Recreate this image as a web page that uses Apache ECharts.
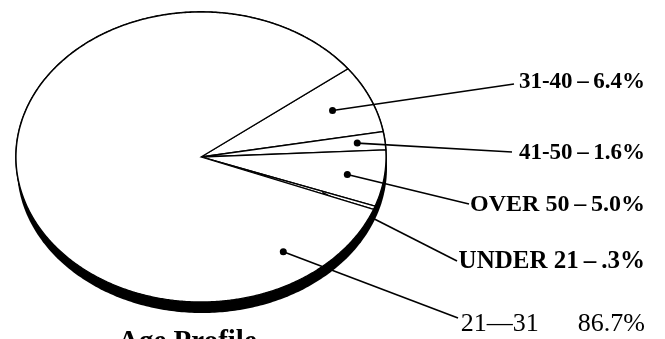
<!DOCTYPE html>
<html>
<head>
<meta charset="utf-8">
<script src="https://cdn.jsdelivr.net/npm/echarts@6/dist/echarts.min.js"></script>
<style>
  html, body { margin: 0; padding: 0; background: #fff; }
  #main { width: 665px; height: 339px; }
</style>
</head>
<body>
<div id="main"></div>
<script>
// age groups, drawn clockwise starting at the upper right
var categories = ['31-40', '41-50', 'OVER 50', 'UNDER 21', '21-31'];
var values = [6.4, 1.6, 5.0, 0.3, 86.7];
var labels = ['31-40\u2009\u2013\u20096.4%', '41-50\u2009\u2013\u20091.6%', 'OVER 50\u2009\u2013\u20095.0%',
  'UNDER 21\u2009\u2013\u2009.3%', '21\u201431      86.7%'];
var title = 'Age Profile';

// layout of the flattened pie
var cx = 201, cy = 157, rx = 185, ry = 145;
var startAngle = 31;
// leader line: where it ends and where the text sits
var labelEnd = [[514, 84], [512, 152], [469, 204], [457, 261], [458, 318]];
var labelY = [82, 153, 205, 262, 324];
var labelFont = ['bold 23px', 'bold 23px', 'bold 24px', 'bold 25px', 'normal 26px'];
var pointer = [
  { frac: 0.78, dot: true },
  { frac: 0.85, dot: true },
  { frac: 0.8, dot: true },
  { frac: 0.7, dot: false },
  { angle: -49, frac: 0.79, dot: true }
];

function onEllipse(deg, frac, ox, oy) {
  var t = deg * Math.PI / 180;
  var c = Math.cos(t), s = Math.sin(t);
  var r = 1 / Math.sqrt(c * c / (rx * rx) + s * s / (ry * ry));
  return [(ox || cx) + r * frac * c, (oy || cy) - r * frac * s];
}

function ellipsePoints(ox, oy) {
  var pts = [];
  for (var a = 0; a < 360; a += 1) pts.push(onEllipse(a, 1, ox, oy));
  return pts;
}

var total = values.reduce(function (a, b) { return a + b; }, 0);

var chartDom = document.getElementById('main');
var myChart = echarts.init(chartDom);

myChart.setOption({
  animation: false,
  graphic: [
    { type: 'polygon', z: 0, shape: { points: ellipsePoints(cx + 1, cy + 11) }, style: { fill: '#000' } },
    { type: 'polygon', z: 1, shape: { points: ellipsePoints(cx, cy) }, style: { fill: '#fff', stroke: '#000', lineWidth: 1.8 } },
    {
      type: 'text', z: 5, left: 118, top: 328,
      style: { text: title, font: 'bold 29px "Liberation Serif", serif', fill: '#000' }
    }
  ],
  series: [{
    type: 'custom',
    coordinateSystem: 'none',
    z: 3,
    data: values.map(function (v, i) { return [i, v]; }),
    renderItem: function (params, api) {
      var i = params.dataIndex;
      var before = 0;
      for (var k = 0; k < i; k++) before += values[k];
      var a0 = startAngle - before / total * 360;
      var a1 = a0 - api.value(1) / total * 360;
      var pts = [[cx, cy]];
      for (var a = a0; a > a1; a -= 0.5) pts.push(onEllipse(a, 1));
      pts.push(onEllipse(a1, 1));

      var p = pointer[i];
      var pa = p.angle != null ? p.angle : (a0 + a1) / 2;
      var dot = onEllipse(pa, p.frac);
      var end = labelEnd[i];
      var children = [
        { type: 'polygon', shape: { points: pts }, style: { fill: '#fff', stroke: '#000', lineWidth: 1.3 } },
        { type: 'line', shape: { x1: dot[0], y1: dot[1], x2: end[0], y2: end[1] }, style: { stroke: '#000', lineWidth: 1.6 } },
        {
          type: 'text',
          style: {
            text: labels[i], x: 645, y: labelY[i], align: 'right', verticalAlign: 'middle',
            font: labelFont[i] + ' "Liberation Serif", serif', fill: '#000'
          }
        }
      ];
      if (p.dot) {
        children.push({ type: 'circle', shape: { cx: dot[0], cy: dot[1], r: 3.5 }, style: { fill: '#000' } });
      }
      return { type: 'group', children: children };
    }
  }]
});
</script>
</body>
</html>
